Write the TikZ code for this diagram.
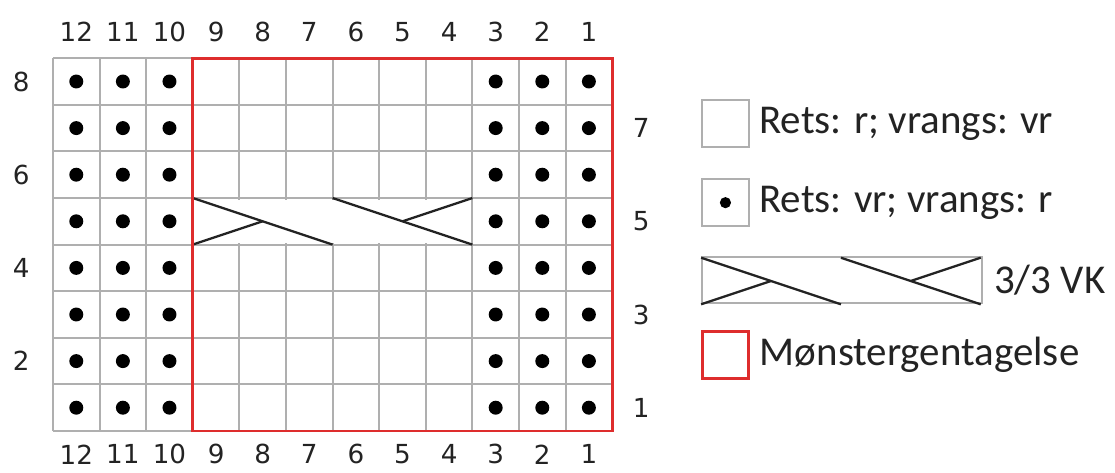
\documentclass[tikz,border=0pt]{standalone}
\usepackage{fontspec}
\setmainfont{Carlito}
\setsansfont{DejaVu Sans}
\usetikzlibrary{positioning}
\definecolor{gridgray}{RGB}{175,175,175}
\definecolor{repeatred}{RGB}{222,45,45}
\definecolor{inkgray}{RGB}{35,35,35}

\begin{document}
\begin{tikzpicture}[
        gridline/.style={draw=gridgray, line width=1.2pt},
        repeatline/.style={draw=repeatred, line width=1.8pt},
        cableline/.style={draw=inkgray, line width=1.4pt},
        purl/.style={fill=black},
        num/.style={font=\sffamily\fontsize{16}{18}\selectfont, text=inkgray, inner sep=0pt},
        legbox/.style={draw=gridgray, line width=1.2pt, minimum size=1cm, inner sep=0pt},
        legtext/.style={font=\fontsize{25}{28}\selectfont, text=inkgray, inner sep=0pt},
        cable/.pic={
            \draw[cableline] (0,1) -- (3,0);
            \draw[cableline] (0,0) -- (1.5,0.5);
            \draw[cableline] (3,1) -- (6,0);
            \draw[cableline] (6,1) -- (4.5,0.5);
        }
    ]
    \useasboundingbox (-1.137,-0.88) rectangle (22.79,9.249);

    % chart
    \draw[gridline] (0,0) grid (12,8);
    \fill[white] (3.05,4.04) rectangle (8.96,4.96);
    \pic at (3,4) {cable};
    \foreach \x in {0,1,2,9,10,11}
        \foreach \y in {0,...,7}
            \fill[purl] (\x+0.5,\y+0.5) circle (0.15);
    \draw[repeatline] (3,0) rectangle (12,8);

    % column and row numbers
    \foreach \c in {1,...,12} {
        \node[num] (top\c) at (12.5-\c,8.56) {\c};
        \node[num] (bot\c) at (12.5-\c,-0.5) {\c};
    }
    \foreach \r in {2,4,6,8}
        \node[num] (left\r) at (-0.68,\r-0.5) {\r};
    \foreach \r in {1,3,5,7}
        \node[num] (right\r) at (12.62,\r-0.5) {\r};

    % legend
    \node[legbox] (knitbox) at (14.43,6.6) {};
    \node[legtext, right=0.2cm of knitbox] (knittext) {Rets: r; vrangs: vr};
    \node[legbox] (purlbox) at (14.43,4.9) {};
    \fill[purl] (purlbox.center) circle (0.12);
    \node[legtext, right=0.2cm of purlbox] (purltext) {Rets: vr; vrangs: r};
    \node[legbox, minimum width=6cm] (cablebox) at (16.93,3.24) {};
    \pic at (cablebox.south west) {cable};
    \node[legtext, right=0.24cm of cablebox] (cabletext) {3/3 VK};
    \node[legbox, draw=repeatred, line width=1.8pt] (repeatbox) at (14.43,1.63) {};
    \node[legtext, right=0.2cm of repeatbox] (repeattext) {Mønstergentagelse};
\end{tikzpicture}
\end{document}
